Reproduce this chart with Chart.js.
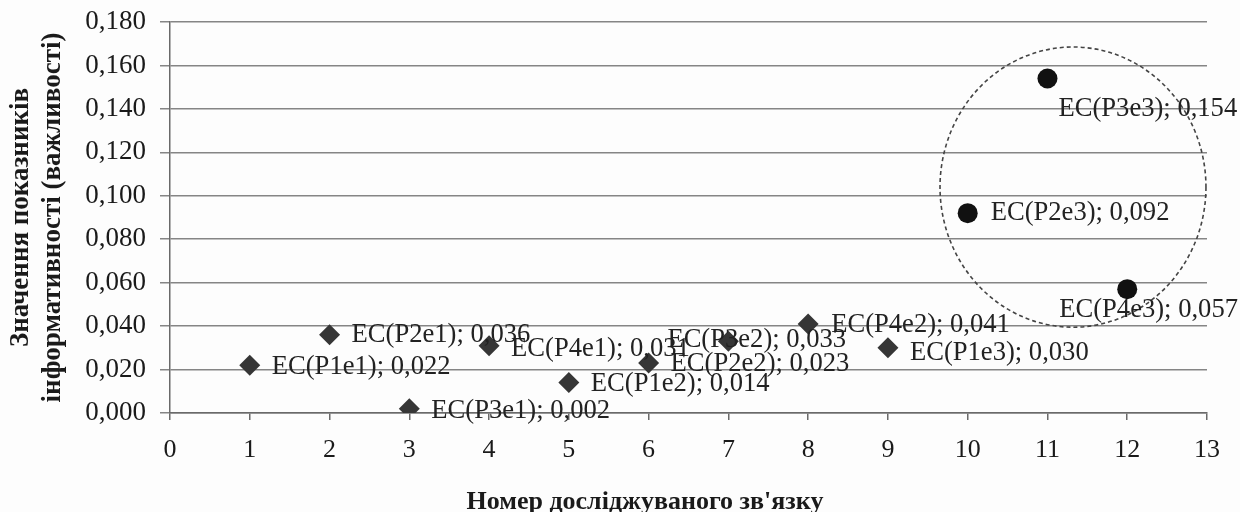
<!DOCTYPE html>
<html>
<head>
<meta charset="utf-8">
<script src="https://cdn.jsdelivr.net/npm/chart.js@4/dist/chart.umd.min.js"></script>
<style>
  html, body { margin: 0; padding: 0; background: #fdfdfd; }
  canvas { display: block; }
</style>
</head>
<body>
<canvas id="chart" width="1240" height="512"></canvas>
<script>
// Links of the first two stages (diamond markers)
const linkNumbers = [1, 2, 3, 4, 5, 6, 7, 8, 9];
const linkNames   = ['P1e1', 'P2e1', 'P3e1', 'P4e1', 'P1e2', 'P2e2', 'P3e2', 'P4e2', 'P1e3'];
const linkValues  = [0.022, 0.036, 0.002, 0.031, 0.014, 0.023, 0.033, 0.041, 0.030];

// Most informative links (round markers, circled)
const keyNumbers = [10, 11, 12];
const keyNames   = ['P2e3', 'P3e3', 'P4e3'];
const keyValues  = [0.092, 0.154, 0.057];

// Axis ticks
const xTickValues = [0, 1, 2, 3, 4, 5, 6, 7, 8, 9, 10, 11, 12, 13];
const yTickValues = [0, 0.02, 0.04, 0.06, 0.08, 0.10, 0.12, 0.14, 0.16, 0.18];

const xTitle = 'Номер досліджуваного зв\'язку';
const yTitle = ['Значення показників', 'інформативності (важливості)'];

// Label placement relative to each marker, in pixels [dx, dy]
const labelOffsets = {
  P1e1: [22, 2], P2e1: [22, 0], P3e1: [22, 2], P4e1: [22, 3],
  P1e2: [22, 1], P2e2: [22, 1], P3e2: [-61, -1], P4e2: [23, 1],
  P1e3: [22, 5], P2e3: [23, 0], P3e3: [11, 31], P4e3: [-68, 21]
};

// Dashed ring around the key links, in data units
const ring = { cx: 11.32, cy: 0.104, rx: 1.667, ry: 0.0645 };

const fmt = v => v.toFixed(3).replace('.', ',');
const SERIF = '"Liberation Serif", "Times New Roman", serif';

const toPoints = (xs, ys, names) => xs.map((x, i) => ({ x: x, y: ys[i], name: names[i] }));

const pointLabels = {
  id: 'pointLabels',
  afterDatasetsDraw(chart) {
    const ctx = chart.ctx;
    ctx.save();
    ctx.font = '26.6px ' + SERIF;
    ctx.fillStyle = '#222';
    ctx.textAlign = 'left';
    ctx.textBaseline = 'middle';
    chart.data.datasets.forEach((ds, di) => {
      const meta = chart.getDatasetMeta(di);
      meta.data.forEach((el, i) => {
        const p = ds.data[i];
        const off = labelOffsets[p.name] || [22, 0];
        ctx.fillText('EC(' + p.name + '); ' + fmt(p.y), el.x + off[0], el.y + off[1]);
      });
    });
    ctx.restore();
  }
};

const ringPlugin = {
  id: 'ring',
  afterDatasetsDraw(chart) {
    const xs = chart.scales.x, ys = chart.scales.y, ctx = chart.ctx;
    const cx = xs.getPixelForValue(ring.cx);
    const cy = ys.getPixelForValue(ring.cy);
    const rx = xs.getPixelForValue(ring.cx + ring.rx) - cx;
    const ry = cy - ys.getPixelForValue(ring.cy + ring.ry);
    ctx.save();
    ctx.strokeStyle = '#444';
    ctx.lineWidth = 1.6;
    ctx.setLineDash([4, 3]);
    ctx.beginPath();
    ctx.ellipse(cx, cy, rx, ry, 0, 0, Math.PI * 2);
    ctx.stroke();
    ctx.restore();
  }
};

const xTitlePlugin = {
  id: 'xTitle',
  afterDraw(chart) {
    const a = chart.chartArea, ctx = chart.ctx;
    ctx.save();
    ctx.font = 'bold 26px ' + SERIF;
    ctx.fillStyle = '#1a1a1a';
    ctx.textAlign = 'center';
    ctx.textBaseline = 'middle';
    ctx.fillText(xTitle, a.left + (a.right - a.left) * 0.458, chart.height - 10);
    ctx.restore();
  }
};

new Chart(document.getElementById('chart'), {
  type: 'scatter',
  data: {
    datasets: [
      {
        data: toPoints(linkNumbers, linkValues, linkNames),
        pointStyle: 'rectRot',
        pointRadius: 10.5,
        pointHoverRadius: 10.5,
        backgroundColor: '#363636',
        borderColor: '#363636',
        borderWidth: 0
      },
      {
        data: toPoints(keyNumbers, keyValues, keyNames),
        pointStyle: 'circle',
        pointRadius: 10,
        pointHoverRadius: 10,
        backgroundColor: '#111',
        borderColor: '#111',
        borderWidth: 0
      }
    ]
  },
  options: {
    responsive: false,
    animation: false,
    devicePixelRatio: 1,
    layout: { padding: { left: 0, top: 22, right: 33, bottom: 0 } },
    plugins: { legend: { display: false }, tooltip: { enabled: false } },
    scales: {
      x: {
        type: 'linear',
        min: 0, max: 13,
        afterBuildTicks: s => { s.ticks = xTickValues.map(v => ({ value: v })); },
        afterFit: s => { s.height = 99; },
        grid: { drawOnChartArea: false, drawTicks: true, tickLength: 7, color: '#6a6a6a', lineWidth: 1.5 },
        border: { color: '#6a6a6a', width: 1.5 },
        ticks: { color: '#1a1a1a', font: { family: SERIF, size: 26 }, padding: 15, maxRotation: 0 }
      },
      y: {
        type: 'linear',
        min: 0, max: 0.18,
        afterBuildTicks: s => { s.ticks = yTickValues.map(v => ({ value: v })); },
        afterFit: s => { s.width = 170; s.paddingTop = 12; s.paddingBottom = 12; },
        grid: { color: '#858585', lineWidth: 1.5, tickLength: 10 },
        border: { color: '#6a6a6a', width: 1.5 },
        ticks: { color: '#1a1a1a', font: { family: SERIF, size: 27 }, padding: 14, callback: v => fmt(v) },
        title: {
          display: true,
          text: yTitle,
          color: '#1a1a1a',
          font: { family: SERIF, size: 27, weight: 'bold', lineHeight: 1.15 },
          padding: { top: 6, bottom: 0 }
        }
      }
    }
  },
  plugins: [ringPlugin, pointLabels, xTitlePlugin]
});
</script>
</body>
</html>
